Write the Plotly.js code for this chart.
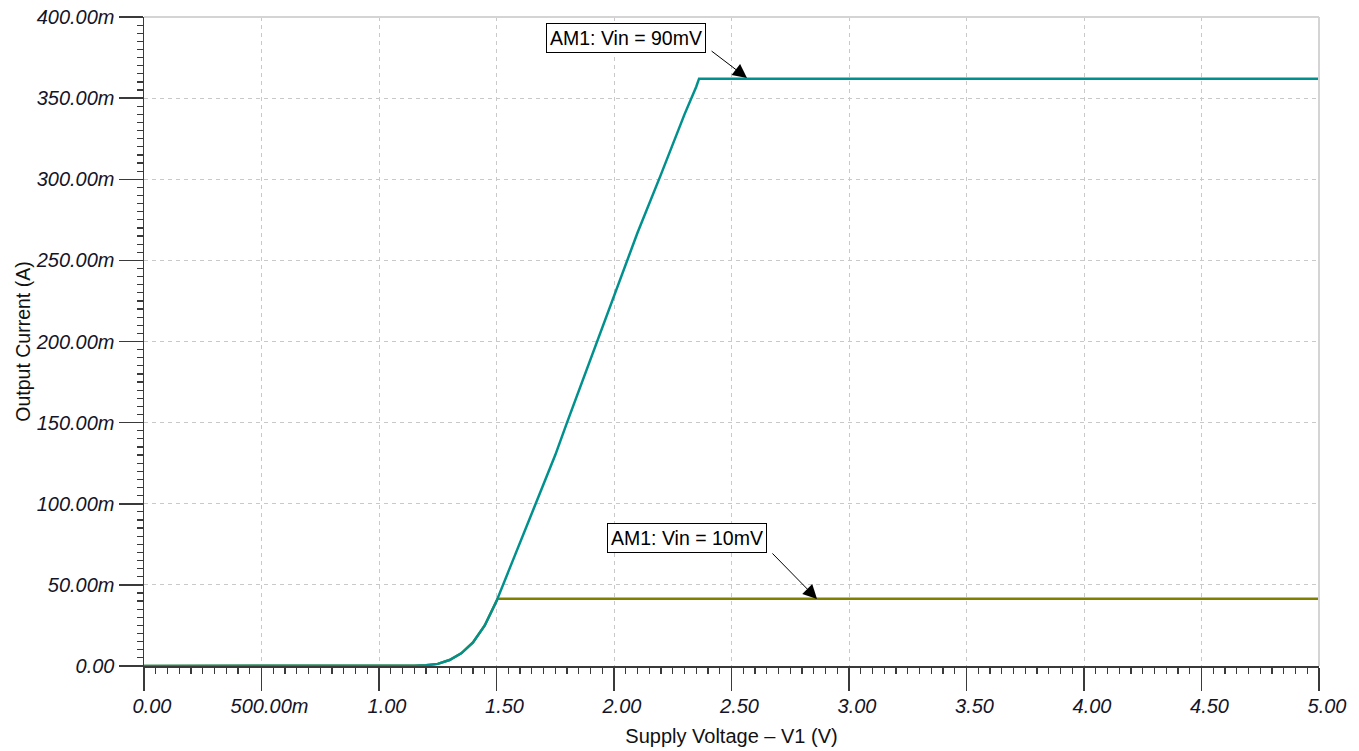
<!DOCTYPE html>
<html>
<head>
<meta charset="utf-8">
<script src="https://cdn.plot.ly/plotly-3.0.1.min.js"></script>
<style>html,body{margin:0;padding:0;background:#fff;}#chart{width:1359px;height:751px;}</style>
</head>
<body>
<div id="chart"></div>
<script>
// Supply voltage V1 (V)
const v1_90mV = [0, 0.5, 1.0, 1.15, 1.2, 1.25, 1.3, 1.35, 1.4, 1.45, 1.5, 1.55, 1.6, 1.65, 1.7, 1.75, 1.8, 1.9, 2.0, 2.1, 2.2, 2.3, 2.35, 2.362, 2.4, 5.0];
// Output current (A), Vin = 90mV
const i_90mV  = [0, 0, 0, 0.0002, 0.0005, 0.0013, 0.0037, 0.0078, 0.0145, 0.025, 0.040, 0.058, 0.076, 0.094, 0.112, 0.130, 0.150, 0.189, 0.228, 0.267, 0.303, 0.340, 0.357, 0.362, 0.362, 0.362];
const v1_10mV = [0, 0.5, 1.0, 1.15, 1.2, 1.25, 1.3, 1.35, 1.4, 1.45, 1.505, 2.0, 3.0, 4.0, 5.0];
const i_10mV  = [0, 0, 0, 0.0002, 0.0005, 0.0013, 0.0037, 0.0078, 0.0145, 0.025, 0.0415, 0.0415, 0.0415, 0.0415, 0.0415];

const xTickVals = [0, 0.5, 1.0, 1.5, 2.0, 2.5, 3.0, 3.5, 4.0, 4.5, 5.0];
const xTickText = ["0.00", "500.00m", "1.00", "1.50", "2.00", "2.50", "3.00", "3.50", "4.00", "4.50", "5.00"];
const yTickVals = [0, 0.05, 0.10, 0.15, 0.20, 0.25, 0.30, 0.35, 0.40];
const yTickText = ["0.00", "50.00m", "100.00m", "150.00m", "200.00m", "250.00m", "300.00m", "350.00m", "400.00m"];
const xMidTicks = [0.25, 0.75, 1.25, 1.75, 2.25, 2.75, 3.25, 3.75, 4.25, 4.75];
const yMidTicks = [0.025, 0.075, 0.125, 0.175, 0.225, 0.275, 0.325, 0.375];

const labels = ["AM1: Vin = 90mV", "AM1: Vin = 10mV"];

const FONT = "Liberation Sans, Arial, sans-serif";
const AXC = "#3a3a3a";

const traces = [
  {x: v1_10mV, y: i_10mV, mode: "lines", name: labels[1], line: {color: "#808000", width: 2.5}, cliponaxis: false, hoverinfo: "x+y"},
  {x: v1_90mV, y: i_90mV, mode: "lines", name: labels[0], line: {color: "#00918e", width: 2.5}, cliponaxis: false, hoverinfo: "x+y"}
];

const layout = {
  width: 1359, height: 751,
  margin: {l: 144, r: 40, t: 17, b: 85},
  paper_bgcolor: "#fff", plot_bgcolor: "#fff",
  showlegend: false,
  font: {family: FONT, size: 20, color: "#111"},
  xaxis: {
    range: [0, 5], fixedrange: true,
    tickmode: "array", tickvals: xTickVals, ticktext: xTickText,
    tickfont: {family: FONT, size: 20, color: "#141428", style: "italic"},
    ticks: "outside", ticklen: 23, tickwidth: 1.5, tickcolor: AXC,
    ticklabelshift: 8, ticklabelstandoff: -2,
    minor: {dtick: 0.05, ticks: "outside", ticklen: 6, tickwidth: 1.2, tickcolor: AXC, showgrid: false},
    showline: true, linecolor: AXC, linewidth: 1.5,
    showgrid: true, gridcolor: "#c9c9c9", gridwidth: 1, griddash: "4px,4px",
    zeroline: false,
    title: {text: "Supply Voltage \u2013 V1 (V)", font: {family: FONT, size: 20, color: "#111"}, standoff: 13}
  },
  xaxis2: {
    overlaying: "x", anchor: "y", side: "bottom", range: [0, 5], fixedrange: true,
    tickmode: "array", tickvals: xMidTicks, showticklabels: false,
    ticks: "outside", ticklen: 11, tickwidth: 1.2, tickcolor: AXC,
    showline: false, showgrid: false, zeroline: false
  },
  yaxis: {
    range: [0, 0.4], fixedrange: true,
    tickmode: "array", tickvals: yTickVals, ticktext: yTickText,
    tickfont: {family: FONT, size: 20, color: "#141428", style: "italic"},
    ticks: "outside", ticklen: 24, tickwidth: 1.5, tickcolor: AXC,
    ticklabelstandoff: 0,
    minor: {dtick: 0.005, ticks: "outside", ticklen: 6, tickwidth: 1.2, tickcolor: AXC, showgrid: false},
    showline: true, linecolor: AXC, linewidth: 1.5,
    showgrid: true, gridcolor: "#c9c9c9", gridwidth: 1, griddash: "4px,4px",
    zeroline: false,
    title: {text: "Output Current (A)", font: {family: FONT, size: 19.5, color: "#111"}, standoff: 0}
  },
  yaxis2: {
    overlaying: "y", anchor: "x", side: "left", range: [0, 0.4], fixedrange: true,
    tickmode: "array", tickvals: yMidTicks, showticklabels: false,
    ticks: "outside", ticklen: 12, tickwidth: 1.2, tickcolor: AXC,
    showline: false, showgrid: false, zeroline: false
  },
  shapes: [
    {type: "line", xref: "paper", yref: "paper", x0: 0, x1: 1, y0: 1, y1: 1, line: {color: "#d4d4d4", width: 2}},
    {type: "line", xref: "paper", yref: "paper", x0: 1, x1: 1, y0: 0, y1: 1, line: {color: "#d4d4d4", width: 2}}
  ],
  annotations: [
    {x: 2.051, y: 0.3868, xref: "x", yref: "y", text: labels[0], showarrow: false,
     font: {family: FONT, size: 19.5, color: "#000"}, bgcolor: "#fff", bordercolor: "#000", borderwidth: 1, borderpad: 3},
    {x: 2.566, y: 0.3624, xref: "x", yref: "y", ax: 2.409, ay: 0.3797, axref: "x", ayref: "y", text: "",
     showarrow: true, arrowhead: 2, arrowsize: 2.8, arrowwidth: 1, arrowcolor: "#000"},
    {x: 2.311, y: 0.0786, xref: "x", yref: "y", text: labels[1], showarrow: false,
     font: {family: FONT, size: 19.5, color: "#000"}, bgcolor: "#fff", bordercolor: "#000", borderwidth: 1, borderpad: 3},
    {x: 2.864, y: 0.0413, xref: "x", yref: "y", ax: 2.668, ay: 0.0703, axref: "x", ayref: "y", text: "",
     showarrow: true, arrowhead: 2, arrowsize: 2.8, arrowwidth: 1, arrowcolor: "#000"}
  ]
};

Plotly.newPlot("chart", traces, layout, {displayModeBar: false, staticPlot: true});
</script>
</body>
</html>
